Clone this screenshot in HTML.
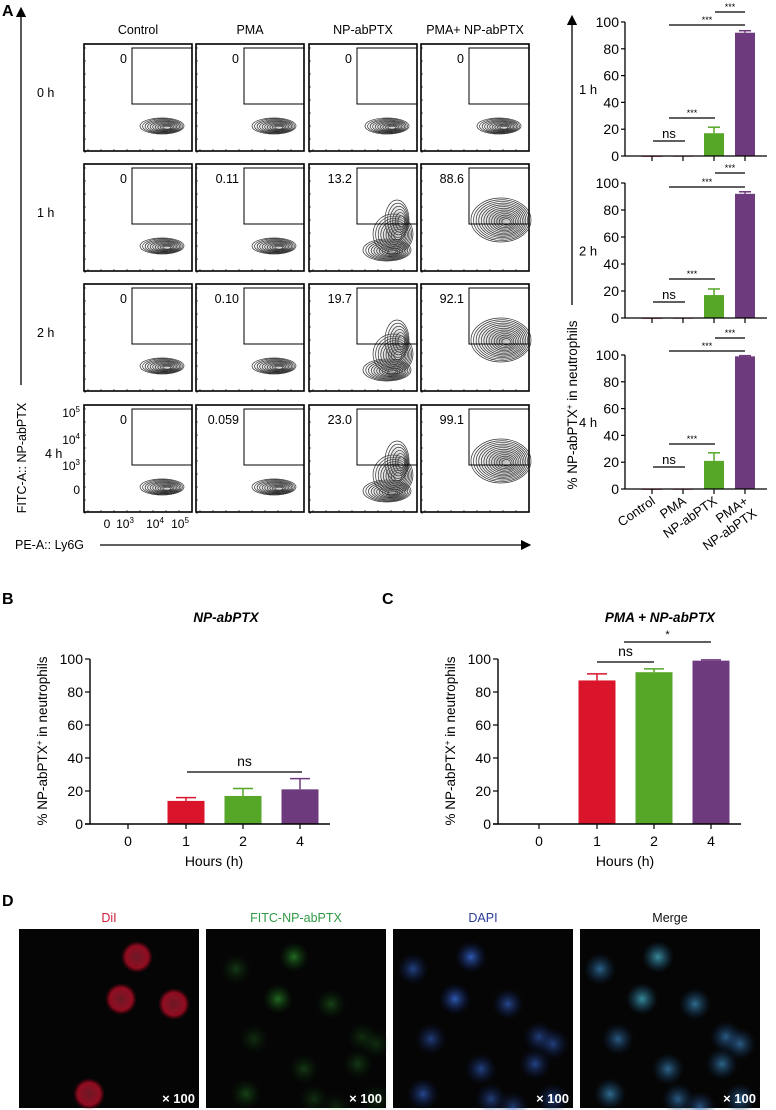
<!DOCTYPE html>
<html><head><meta charset="utf-8"><style>
body{margin:0;background:#fff;}
svg{display:block;font-family:"Liberation Sans",Arial,sans-serif;}
</style></head><body>
<svg id="fig" width="776" height="1110" viewBox="0 0 776 1110" xmlns="http://www.w3.org/2000/svg">
<defs>
<marker id="ah" markerWidth="8" markerHeight="8" refX="4" refY="4" orient="auto"><path d="M0,0 L8,4 L0,8 Z" fill="#000"/></marker>
<radialGradient id="gR"><stop offset="0" stop-color="#ff3050" stop-opacity=".5"/><stop offset=".7" stop-color="#e01030" stop-opacity=".8"/><stop offset="1" stop-color="#a00018" stop-opacity="0"/></radialGradient>
<radialGradient id="gG"><stop offset="0" stop-color="#40d040" stop-opacity=".5"/><stop offset="1" stop-color="#106010" stop-opacity="0"/></radialGradient>
<radialGradient id="gB"><stop offset="0" stop-color="#3a70e0" stop-opacity=".9"/><stop offset="1" stop-color="#102060" stop-opacity="0"/></radialGradient>
<radialGradient id="gK"><stop offset="0" stop-color="#777" stop-opacity=".6"/><stop offset="1" stop-color="#ccc" stop-opacity="0"/></radialGradient>
</defs>
<text x="2" y="16" font-size="16" font-weight="bold">A</text>
<text x="2" y="604" font-size="16" font-weight="bold">B</text>
<text x="382" y="604" font-size="16" font-weight="bold">C</text>
<text x="2" y="906" font-size="16" font-weight="bold">D</text>
<g id="flow"></g>
<g id="abars"></g>
<g id="bchart"></g>
<g id="cchart"></g>
<g id="micro"></g>
</svg>
<script>
const NS="http://www.w3.org/2000/svg";
function mk(parent,tag,attrs,text){const e=document.createElementNS(NS,tag);for(const k in attrs)e.setAttribute(k,attrs[k]);if(text!==undefined)e.textContent=text;parent.appendChild(e);return e;}

// ---------- Panel A flow data ----------
const flowCols=["Control","PMA","NP-abPTX","PMA+ NP-abPTX"];
const flowRows=["0 h","1 h","2 h","4 h"];
const flowVals=[["0","0","0","0"],["0","0.11","13.2","88.6"],["0","0.10","19.7","92.1"],["0","0.059","23.0","99.1"]];

// ---------- Panel A bar data ----------
const aCats=["Control","PMA","NP-abPTX","PMA+\nNP-abPTX"];
const aTimes=["1 h","2 h","4 h"];
const aMeans=[[0,0.11,17,92],[0,0.10,17,92],[0,0.06,21,99]];
const aErr=[[0,0,4.5,1.5],[0,0,4.5,1.5],[0,0,6,0.5]];
const aTicks=[0,20,40,60,80,100];

// ---------- Panel B/C data ----------
const hours=["0","1","2","4"];
const bMeans=[0,14,17,21];
const bErr=[0,2,4.5,6.5];
const cMeans=[0,87,92,99];
const cErr=[0,4,2,0.5];
const bcTicks=[0,20,40,60,80,100];
const colors=["#d9142b","#d9142b","#56a628","#6e3a7e"];
const aColors=["#d9142b","#d9142b","#56a628","#6e3a7e"];

// ===== Flow grid =====
const flow=document.getElementById('flow');
const colX=[84,196,309,421], rowY=[44,164,284,405], PW=108, PH=107;
flowCols.forEach((c,i)=>{const t=mk(flow,'text',{x:colX[i]+PW/2,y:34,'font-size':12.5,'text-anchor':'middle'},c);
});
flowRows.forEach((r,j)=>{const t=mk(flow,'text',{x:j==3?45:37,y:rowY[j]+53,'font-size':12.5},r);
});
function blobs(j,i){
 const v=parseFloat(flowVals[j][i]);
 if(v<1) return [[78,82,22,8,10]];
 if(v<50) return [[78,86,24,11,10],[84,70,20,20,9],[88,56,12,20,6]];
 return [[80,56,30,22,13]];
}
for(let j=0;j<4;j++)for(let i=0;i<4;i++){
 const x=colX[i],y=rowY[j];
 const g=mk(flow,'g',{transform:`translate(${x},${y})`});
 
 mk(g,'rect',{x:0,y:0,width:PW,height:PH,fill:'#fff',stroke:'#000','stroke-width':1.6});
 for(let k=0;k<9;k++){mk(g,'line',{x1:k*13+4,y1:PH,x2:k*13+4,y2:PH-2,stroke:'#000','stroke-width':.6});mk(g,'line',{x1:0,y1:k*13+4,x2:2,y2:k*13+4,stroke:'#000','stroke-width':.6});}
 blobs(j,i).forEach(b=>{mk(g,'ellipse',{cx:b[0],cy:b[1],rx:b[2],ry:b[3],fill:'url(#gK)'});
  for(let n=0;n<b[4];n++){const s=1-n/(b[4]+1);
  mk(g,'ellipse',{cx:b[0]+(1-s)*6,cy:b[1]+(1-s)*2,rx:b[2]*s,ry:b[3]*s,fill:'none',stroke:'#333','stroke-width':.7});}});
 const gate=mk(g,'rect',{x:48,y:4,width:60,height:56,fill:'none',stroke:'#000','stroke-width':1});
 
 const t=mk(g,'text',{x:43,y:19,'font-size':12.5,'text-anchor':'end'},flowVals[j][i]);
 
}
[["10","5",413],["10","4",440],["10","3",466],["0","",490]].forEach(a=>{const t=mk(flow,'text',{x:80,y:a[2]+4,'font-size':12,'text-anchor':'end'});
 t.appendChild(document.createTextNode(a[0]));if(a[1]){mk(t,'tspan',{dy:-5,'font-size':8},a[1]);}
 });
[["0","",107],["10","3",125],["10","4",155],["10","5",180]].forEach(a=>{const t=mk(flow,'text',{x:a[2],y:528,'font-size':12,'text-anchor':'middle'});
 t.appendChild(document.createTextNode(a[0]));if(a[1])mk(t,'tspan',{dy:-5,'font-size':8},a[1]);
 });
let l=mk(flow,'line',{x1:21,y1:385,x2:21,y2:12,stroke:'#000','stroke-width':1.3,'marker-end':'url(#ah)'});

l=mk(flow,'text',{x:0,y:0,'font-size':12.5,'text-anchor':'middle',transform:'translate(26,458) rotate(-90)'},'FITC-A:: NP-abPTX');

l=mk(flow,'text',{x:15,y:549,'font-size':12.5},'PE-A:: Ly6G');

l=mk(flow,'line',{x1:100,y1:545,x2:526,y2:545,stroke:'#000','stroke-width':1.3,'marker-end':'url(#ah)'});


// ===== Panel A bars =====
const ab=document.getElementById('abars');
const aAx=625,aRight=767,aCx=[652,683,714,745],aBW=20;
const aTop=[22,183,355],aBot=[156,318,489];
const aSig=[[12,25,118,141],[173,187,279,302],[338,351,444,467]];
aTimes.forEach((tm,r)=>{
 const ys=v=>aBot[r]-(aBot[r]-aTop[r])*v/100;
 const g=mk(ab,'g',{});
 aMeans[r].forEach((v,c)=>{
  const b=mk(g,'rect',{x:aCx[c]-aBW/2,y:ys(v),width:aBW,height:Math.max(aBot[r]-ys(v),0.8),fill:aColors[c]});
  
  if(aErr[r][c]>0){const ye=ys(v+aErr[r][c]);mk(g,'line',{x1:aCx[c],y1:ys(v),x2:aCx[c],y2:ye,stroke:aColors[c],'stroke-width':1.5});
   mk(g,'line',{x1:aCx[c]-6,y1:ye,x2:aCx[c]+6,y2:ye,stroke:aColors[c],'stroke-width':1.5});}
  mk(g,'line',{x1:aCx[c],y1:aBot[r],x2:aCx[c],y2:aBot[r]+5,stroke:'#000','stroke-width':1.2});
 });
 mk(g,'line',{x1:aAx,y1:aTop[r],x2:aAx,y2:aBot[r],stroke:'#000','stroke-width':1.3});
 mk(g,'line',{x1:aAx,y1:aBot[r],x2:aRight,y2:aBot[r],stroke:'#000','stroke-width':1.3});
 aTicks.forEach(t=>{mk(g,'line',{x1:aAx-4,y1:ys(t),x2:aAx,y2:ys(t),stroke:'#000','stroke-width':1.2});
  const tt=mk(g,'text',{x:aAx-6,y:ys(t)+5,'font-size':14,'text-anchor':'end'},t);});
 const rl=mk(g,'text',{x:579,y:(aTop[r]+aBot[r])/2+5,'font-size':13},tm);
 const s=aSig[r];
 const lines=[[715,745,s[0],'***'],[669,745,s[1],'***'],[669,715,s[2],'***'],[653,685,s[3],'ns']];
 lines.forEach(q=>{mk(g,'line',{x1:q[0],y1:q[2],x2:q[1],y2:q[2],stroke:'#000','stroke-width':1.2});
  const st=mk(g,'text',{x:(q[0]+q[1])/2,y:q[2]-(q[3]=='ns'?3:2),'font-size':q[3]=='ns'?13:9,'text-anchor':'middle'},q[3]);
  });
});
aCats.forEach((c,i)=>{const parts=c.split('\n');
 const t=mk(ab,'text',{'font-size':13,'text-anchor':'end',transform:`translate(${aCx[i]+4},${aBot[2]+14}) rotate(-35)`});
 parts.forEach((p,k)=>mk(t,'tspan',{x:0,dy:k?15:0},p));
 });
l=mk(ab,'line',{x1:572,y1:305,x2:572,y2:20,stroke:'#000','stroke-width':1.3,'marker-end':'url(#ah)'});

l=mk(ab,'text',{'font-size':13.5,'text-anchor':'middle',transform:'translate(577,405) rotate(-90)'});
l.appendChild(document.createTextNode('% NP-abPTX'));mk(l,'tspan',{dy:-5,'font-size':8},'+');mk(l,'tspan',{dy:5},' in neutrophils');


// ===== B / C =====
function hourChart(gid,ax,cx,means,errs,title,titleX,sig){
 const g=document.getElementById(gid);
 const y0=824,y1=659,right=cx[3]+30;
 const ys=v=>y0-(y0-y1)*v/100;
 const tt=mk(g,'text',{x:titleX,y:622,'font-size':13.5,'font-weight':'bold','font-style':'italic','text-anchor':'middle'},title);
 
 means.forEach((v,i)=>{
  if(v>0){const b=mk(g,'rect',{x:cx[i]-18.5,y:ys(v),width:37,height:y0-ys(v),fill:colors[i]});
   }
  if(errs[i]>0){const ye=ys(v+errs[i]);mk(g,'line',{x1:cx[i],y1:ys(v),x2:cx[i],y2:ye,stroke:colors[i],'stroke-width':1.5});
   mk(g,'line',{x1:cx[i]-10,y1:ye,x2:cx[i]+10,y2:ye,stroke:colors[i],'stroke-width':1.5});}
  mk(g,'line',{x1:cx[i],y1:y0,x2:cx[i],y2:y0+5,stroke:'#000','stroke-width':1.2});
  const xl=mk(g,'text',{x:cx[i],y:846,'font-size':14,'text-anchor':'middle'},hours[i]);
  
 });
 mk(g,'line',{x1:ax,y1:y1,x2:ax,y2:y0,stroke:'#000','stroke-width':1.4});
 mk(g,'line',{x1:ax-5,y1:y0,x2:right,y2:y0,stroke:'#000','stroke-width':1.4});
 bcTicks.forEach(t=>{mk(g,'line',{x1:ax-5,y1:ys(t),x2:ax,y2:ys(t),stroke:'#000','stroke-width':1.2});
  const yl=mk(g,'text',{x:ax-7,y:ys(t)+5,'font-size':14,'text-anchor':'end'},t);});
 const xt=mk(g,'text',{x:(cx[0]+cx[3])/2,y:866,'font-size':14,'text-anchor':'middle'},'Hours (h)');
 
 const yt=mk(g,'text',{'font-size':13.5,'text-anchor':'middle',transform:`translate(${ax-43},741) rotate(-90)`});
 yt.appendChild(document.createTextNode('% NP-abPTX'));mk(yt,'tspan',{dy:-5,'font-size':8},'+');mk(yt,'tspan',{dy:5},' in neutrophils');
 
 sig.forEach(q=>{mk(g,'line',{x1:q[0],y1:q[2],x2:q[1],y2:q[2],stroke:'#000','stroke-width':1.2});
  const st=mk(g,'text',{x:(q[0]+q[1])/2,y:q[2]-(q[3]=='ns'?6:4),'font-size':q[3]=='ns'?14:11,'text-anchor':'middle'},q[3]);
  });
}
hourChart('bchart',90,[128,186,243,300],bMeans,bErr,'NP-abPTX',226,[[187,302,772,'ns']]);
hourChart('cchart',498,[539,597,654,711],cMeans,cErr,'PMA + NP-abPTX',660,[[597,654,662,'ns'],[624,711,642,'*']]);

// ===== D microscopy =====
const micro=document.getElementById('micro');
const mx=[19,206,393,580],mNames=["DiI","FITC-NP-abPTX","DAPI","Merge"],mCol=["#d0203a","#2f9a45","#2a3c9a","#111"];
const cells=[[78,28,1],[62,70,1],[20,40,.5],[38,110,.4],[30,165,.6],[98,170,.4],[115,75,.6],[146,108,.4],[160,115,.4],[142,135,.5],[88,140,.5],[160,170,.4],[120,178,.3]];
mx.forEach((x,i)=>{
 const lt=mk(micro,'text',{x:x+90,y:922,'font-size':12.5,fill:mCol[i],'text-anchor':'middle'},mNames[i]);
 
 const g=mk(micro,'g',{transform:`translate(${x},929)`});
 mk(g,'rect',{x:0,y:0,width:180,height:179,fill:'#050505'});
 cells.forEach((c,k)=>{
  if(i===0&&c[2]>0.5)mk(g,'circle',{cx:c[0]+40,cy:c[1],r:16,fill:'url(#gR)',opacity:.8});
  if(i===1)mk(g,'circle',{cx:c[0]+10,cy:c[1],r:15,fill:'url(#gG)',opacity:c[2]});
  if(i===2)mk(g,'circle',{cx:c[0],cy:c[1],r:16,fill:'url(#gB)',opacity:.4+c[2]/2});
  if(i===3){mk(g,'circle',{cx:c[0],cy:c[1],r:16,fill:'url(#gB)',opacity:.5+c[2]/2});mk(g,'circle',{cx:c[0],cy:c[1],r:16,fill:'url(#gG)',opacity:c[2]*.7});}
 });
 const m=mk(g,'text',{x:176,y:174,'font-size':13,'font-weight':'bold',fill:'#fff','text-anchor':'end'},'× 100');
 
});
</script>
</body></html>
